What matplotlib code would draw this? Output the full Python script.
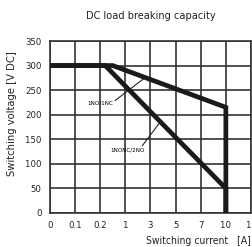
import matplotlib.pyplot as plt

plt.rcParams['font.family'] = ['Liberation Sans Narrow', 'DejaVu Sans']
plt.rcParams['font.stretch'] = 'condensed'

currents = ['0', '0.1', '0.2', '1', '3', '5', '7', '10', '15']
volts = [0, 50, 100, 150, 200, 250, 300, 350]

# curves in positions along the category axis
no_nc_x = [0, 2.5, 7, 7]
no_nc_y = [300, 300, 215, 0]
nonc_x = [0, 2.2, 4.5, 7, 7]
nonc_y = [300, 300, 180, 50, 0]

fig = plt.figure(figsize=(2.52, 2.47), dpi=100)
ax = fig.add_axes([0.198, 0.138, 0.798, 0.696])

ax.plot(no_nc_x, no_nc_y, color='#1a1a1a', lw=3.4, solid_joinstyle='miter', zorder=3)
ax.plot(nonc_x, nonc_y, color='#1a1a1a', lw=3.4, solid_joinstyle='miter', zorder=3)

ax.set_xlim(0, 8)
ax.set_ylim(0, 350)
ax.set_xticks(range(len(currents)))
ax.set_xticklabels(currents)
ax.set_yticks(volts)
ax.grid(True, color='#333333', lw=1.2)
for s in ax.spines.values():
    s.set_color('#333333')
    s.set_linewidth(1.2)
ax.tick_params(length=0, labelsize=6.8, colors='#222222', pad=6)

ax.text(2.0, 224, '1NO/1NC', fontsize=4.5, ha='center', va='center')
ax.plot([2.6, 3.8], [229, 276], color='#222222', lw=0.8)
ax.text(3.08, 129, '1NONC/2NO', fontsize=4.5, ha='center', va='center')
ax.plot([3.68, 4.4], [137, 186], color='#222222', lw=0.8)

ax.set_title('DC load breaking capacity', fontsize=7.8, color='#222222', pad=16)
ax.set_ylabel('Switching voltage [V DC]', fontsize=8, color='#222222', y=0.58, labelpad=6)
ax.set_xlabel('Switching current   [A]', fontsize=7.5, color='#222222', loc='right', labelpad=4)

fig.savefig('out.png', dpi=100)
